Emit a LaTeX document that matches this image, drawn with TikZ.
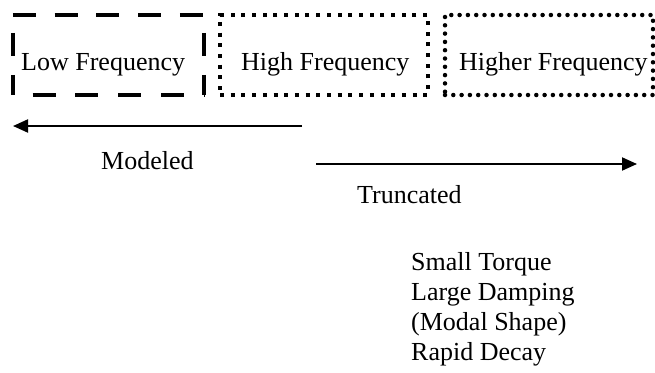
\documentclass[tikz,border=0pt]{standalone}
\usepackage{fontspec}
\setmainfont{Liberation Serif}
\usetikzlibrary{arrows.meta}

\tikzset{
  x=1pt, y=1pt,
  lbl/.style={inner sep=0pt, font=\fontsize{26}{30}\selectfont},
  band/.style={minimum height=80pt, inner sep=0pt},
  lowband/.style={band, minimum width=191pt},
  lowedge/.style={line width=4.5pt, dash pattern=on 23pt off 19pt},
  highband/.style={band, draw=black, minimum width=208pt, line width=4pt, dash pattern=on 4pt off 6.7pt},
  higherband/.style={band, draw=black, minimum width=208pt, line width=4.5pt, line cap=round, dash pattern=on 0pt off 8.3pt},
  rangearrow/.style={line width=2pt, -{Triangle[length=15pt,width=13pt]}},
}

\begin{document}
\begin{tikzpicture}
  \useasboundingbox (0,0) rectangle (655,-372);

  % frequency bands
  \node[lowband]    (low)    at (108.5,-55) {};
  \node[highband]   (high)   at (324,-55)   {};
  \node[higherband] (higher) at (549,-55)   {};

  % dashed outline of the low band, one side at a time
  \draw[lowedge, dash pattern=on 23pt off 18.75pt]
    (low.north west) -- (low.north east);
  \draw[lowedge, dash pattern=on 23pt off 19.8pt, dash phase=23pt]
    (low.south west) -- (low.south east);
  \draw[lowedge, dash phase=24pt] (low.north west) -- (low.south west);
  \draw[lowedge, dash phase=24pt] (low.north east) -- (low.south east);

  \node[lbl, anchor=base west] (lowtxt)    at (21,-70)  {Low Frequency};
  \node[lbl, anchor=base west] (hightxt)   at (241,-70) {High Frequency};
  \node[lbl, anchor=base west] (highertxt) at (459,-70) {Higher Frequency};

  % modeled / truncated ranges
  \coordinate (modstart) at (302,-126);
  \coordinate (modend)   at (13,-126);
  \draw[rangearrow] (modstart) -- (modend);
  \node[lbl, anchor=base west] (modeled) at (101,-169) {Modeled};

  \coordinate (trstart) at (316,-164);
  \coordinate (trend)   at (637,-164);
  \draw[rangearrow] (trstart) -- (trend);
  \node[lbl, anchor=base west] (truncated) at (357,-203) {Truncated};

  % properties of the truncated modes
  \node[lbl, anchor=base west, align=left] (props) at (411,-360)
    {Small Torque\\Large Damping\\(Modal Shape)\\Rapid Decay};
\end{tikzpicture}
\end{document}
